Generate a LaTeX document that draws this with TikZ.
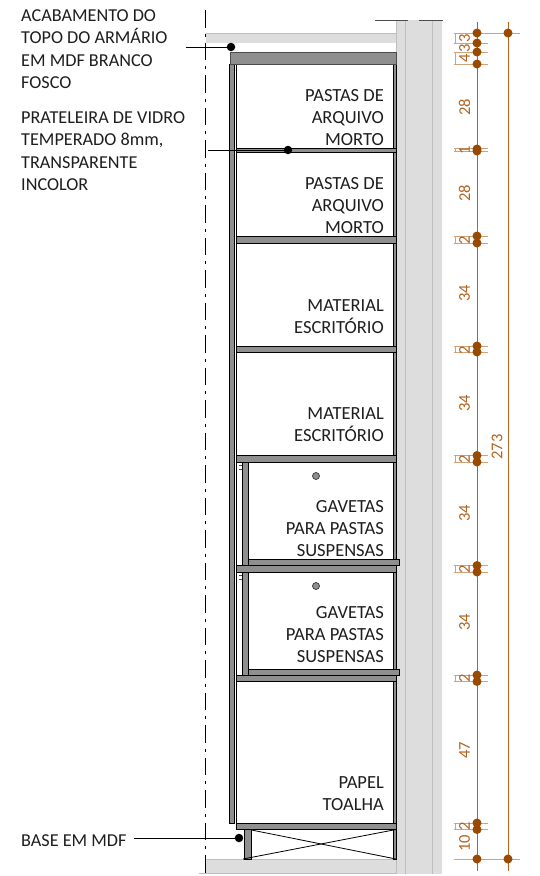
\documentclass[tikz,border=0pt]{standalone}
\usepackage{fontspec}
\setmainfont{Carlito}
\definecolor{dimc}{HTML}{B3641F}
\definecolor{extc}{HTML}{CFA27C}
\definecolor{dotc}{HTML}{9A4A00}
\definecolor{wallc}{HTML}{DDDDDD}
\definecolor{walll}{HTML}{BEBEBE}
\definecolor{panelc}{HTML}{8F8F8F}
\definecolor{txtc}{HTML}{1E1E1E}
\tikzset{
  panel/.style={draw=black,fill=panelc,line width=0.9pt},
  wall/.style={fill=wallc,draw=none},
  wallline/.style={draw=walll,line width=0.8pt},
  lab/.style={font=\fontsize{18.2}{22.3}\selectfont,text=txtc,align=left,anchor=north west,inner sep=0pt},
  rlab/.style={font=\fontsize{18.5}{22.3}\selectfont,text=txtc,align=right,anchor=north east,inner sep=0pt},
  dimt/.style={font=\fontsize{16.5}{17}\selectfont,text=dimc,rotate=90,inner sep=0pt},
  dimline/.style={draw=dimc,line width=1pt},
  ext/.style={draw=extc,line width=1pt},
  bigdot/.style={circle,fill=dotc,minimum size=9pt,inner sep=0pt},
  blackdot/.style={circle,fill=black,minimum size=8.5pt,inner sep=0pt},
  leader/.style={draw=black,line width=0.7pt},
  knob/.style={circle,draw=black!80,fill=panelc,minimum size=7pt,inner sep=0pt,line width=0.7pt}
}
\begin{document}
\begin{tikzpicture}[x=1pt,y=-1pt]
\useasboundingbox[fill=white] (0,0) rectangle (540,876);
% slabs
\fill[wallc] (206,33) rectangle (396,43);
\draw[walll,line width=0.8pt] (206,33) -- (396,33);
\fill[wallc] (206,859) rectangle (396,873);
\draw[walll,line width=0.8pt] (206,859) -- (396,859);
\draw[walll,line width=0.8pt] (199,873.5) -- (396,873.5);
% wall
\fill[wall] (396,20) rectangle (442,874);
\draw[wallline] (396,20) -- (396,874) (405,20) -- (405,874) (432,20) -- (432,874);
\draw[black!70,line width=0.9pt] (375,20) -- (408,20);
\draw[black!70,line width=0.9pt] (419,20) -- (443,20);
% axis
\draw[black,line width=0.7pt,dash pattern=on 17.5pt off 6pt on 3pt off 6pt] (205,10) -- (205,876);
% side panels
\draw[panel] (229.5,64) rectangle (234,823);
\draw[black,line width=1pt] (236.5,64) -- (236.5,823);
\draw[panel] (393,64) rectangle (396,859);
% top
\draw[panel,draw=black!70] (230,52) rectangle (396,64);
% shelves
\draw[panel] (236.5,148.5) rectangle (396,152);
\draw[panel] (236.5,236.5) rectangle (396,243);
\draw[panel] (236.5,346) rectangle (396,352);
\draw[panel] (236.5,455.5) rectangle (396,462);
\draw[panel] (236.5,565.5) rectangle (396,572);
\draw[panel] (236.5,675) rectangle (396,681.5);
\draw[panel] (236.5,823) rectangle (396,829.5);
% drawers
\draw[panel] (242,462) rectangle (248.5,565.5);
\draw[panel] (242,572) rectangle (248.5,675);
\draw[panel] (248.5,559) rectangle (399.5,565.5);
\draw[panel] (248.5,669) rectangle (399.5,675);
\draw[black!70,line width=1.4pt] (238.5,465.5) -- (242,465.5) (238.5,469.5) -- (242,469.5);
\draw[black!70,line width=1.4pt] (238.5,575.5) -- (242,575.5) (238.5,579.5) -- (242,579.5);
\node[knob] (k1) at (316,476) {};
\node[knob] (k2) at (316,586) {};
% base
\draw[panel] (244.5,829.5) rectangle (251.5,859);
\draw[black,line width=0.8pt] (251.5,830) -- (396,859);
\draw[black,line width=0.8pt] (243,859) -- (396,829.5);
% texts
\node[lab] (t1) at (21,9.5) {ACABAMENTO DO\\TOPO DO ARMÁRIO\\EM MDF BRANCO\\FOSCO};
\node[lab] (t2) at (21,111.5) {PRATELEIRA DE VIDRO\\TEMPERADO 8mm,\\TRANSPARENTE\\INCOLOR};
\node[lab] (t3) at (21,834) {BASE EM MDF};
\node[rlab] (r1) at (384,89) {PASTAS DE\\ARQUIVO\\MORTO};
\node[rlab] (r2) at (384,177) {PASTAS DE\\ARQUIVO\\MORTO};
\node[rlab] (r3) at (384,299) {MATERIAL\\ESCRITÓRIO};
\node[rlab] (r4) at (384,407) {MATERIAL\\ESCRITÓRIO};
\node[rlab] (r5) at (384,500) {GAVETAS\\PARA PASTAS\\SUSPENSAS};
\node[rlab] (r6) at (384,606) {GAVETAS\\PARA PASTAS\\SUSPENSAS};
\node[rlab] (r7) at (384,776) {PAPEL\\TOALHA};
% leaders
\node[blackdot] (d1) at (231,47) {};
\node[blackdot] (d2) at (288,150) {};
\node[blackdot] (d3) at (239,838) {};
\coordinate (l1) at (186,47);
\coordinate (l2) at (208,150);
\coordinate (l3) at (134,838);
\draw[leader] (l1) -- (d1);
\draw[leader] (l2) -- (d2);
\draw[leader] (l3) -- (d3);
% dimension extension lines
\foreach \y in {43,52,64,148.5,151.5,236,243,346,352,455.5,462,565.5,572,675,681.5,823,829.5}{
  \draw[ext] (454,\y) -- (488,\y);
}
\draw[ext] (454,33) -- (520,33);
\draw[ext] (454,859) -- (520,859);
\foreach \a/\b in {33/43,52/64,148.5/151.5,236/243,346/352,455.5/462,565.5/572,675/681.5,823/829.5}{
  \draw[ext,line width=0.8pt] (455,\a) -- (455,\b);
}
% dimension lines
\coordinate (a1) at (477,22);
\coordinate (a2) at (477,871);
\coordinate (b1) at (508,22);
\coordinate (b2) at (508,871);
\draw[dimline] (a1) -- (a2);
\draw[dimline] (b1) -- (b2);
\foreach \y [count=\i] in {33,43,52,64,149,151,236,243,346,352,455.5,462,565.5,572,675,681.5,823,829.5,859}{
  \node[bigdot] (p\i) at (477,\y) {};
}
\node[bigdot] (q1) at (508,33) {};
\node[bigdot] (q2) at (508,859) {};
% dim labels
\foreach \y/\t in {38/3,48/3,58/4,150/1,240/2,350/2,459/2,569/2,678/2,826/2,107/28,193/28,293/34,403/34,513/34,622/34,750/47,843/10}{
  \node[dimt] at (464.5,\y) {\t};
}
\node[dimt] (tot) at (497,447) {273};
\end{tikzpicture}
\end{document}
